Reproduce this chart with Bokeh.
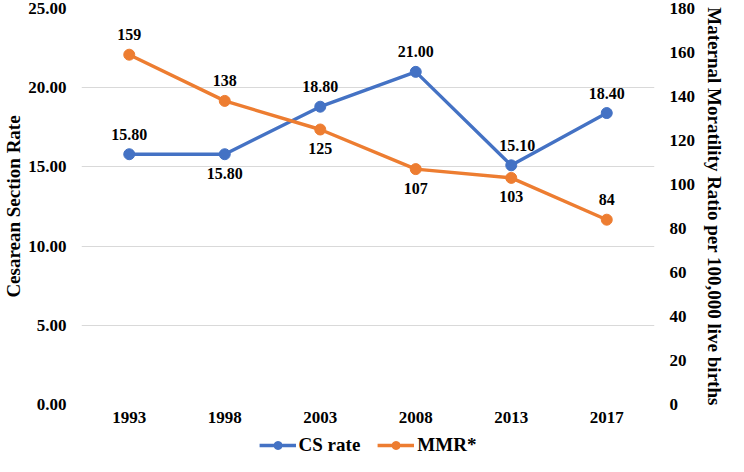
from bokeh.plotting import figure
from bokeh.models import (Range1d, LinearAxis, FixedTicker, PrintfTickFormatter,
                          Legend, LegendItem, ColumnDataSource, FactorRange)
from bokeh.layouts import column
from bokeh.core.properties import value
from bokeh.embed import file_html
from bokeh.resources import INLINE

years = ["1993", "1998", "2003", "2008", "2013", "2017"]
cs_rate = [15.80, 15.80, 18.80, 21.00, 15.10, 18.40]
mmr = [159, 138, 125, 107, 103, 84]
left_ticks = [0, 5, 10, 15, 20, 25]
right_ticks = [0, 20, 40, 60, 80, 100, 120, 140, 160, 180]
series_names = ["CS rate", "MMR*"]

# label placement (above=True / below=False)
cs_above = [True, False, True, True, True, True]
mmr_above = [True, True, False, False, False, True]

BLUE = "#4472C4"
ORANGE = "#ED7D31"
FONT_NAME = "Liberation Serif"
FONT = value(FONT_NAME)

src = ColumnDataSource(dict(
    year=years,
    cs=cs_rate,
    mmr=mmr,
    cs_lbl=[f"{v:.2f}" for v in cs_rate],
    mmr_lbl=[str(v) for v in mmr],
    cs_dy=[-20 if a else 19 for a in cs_above],
    cs_dx=[6 if y == "2013" else 0 for y in years],
    mmr_dy=[-20 if a else 19 for a in mmr_above],
))

p = figure(x_range=FactorRange(factors=years), y_range=Range1d(0, 25),
           width=728, height=434, output_backend="svg", toolbar_location=None,
           min_border_left=0, min_border_right=0, min_border_top=8,
           min_border_bottom=30)
p.outline_line_color = None
p.background_fill_color = "white"
p.border_fill_color = "white"
p.xgrid.grid_line_color = None
p.ygrid.grid_line_color = "#d9d9d9"
p.ygrid.grid_line_width = 1
p.ygrid.ticker = FixedTicker(ticks=left_ticks)

p.extra_y_ranges = {"mmr": Range1d(0, 180)}

lax = p.left[0]
lax.ticker = FixedTicker(ticks=left_ticks)
lax.formatter = PrintfTickFormatter(format="%.2f")
lax.axis_label = "Cesarean Section Rate"

rax = LinearAxis(y_range_name="mmr", ticker=FixedTicker(ticks=right_ticks),
                 axis_label="Maternal Moratility Ratio per 100,000 live births")
p.add_layout(rax, "right")

bax = p.below[0]

for ax in (lax, rax, bax):
    ax.axis_line_color = None
    ax.major_tick_line_color = None
    ax.minor_tick_line_color = None
    ax.major_tick_out = 0
    ax.minor_tick_out = 0
    ax.major_label_text_font = FONT_NAME
    ax.major_label_text_font_style = "bold"
    ax.major_label_text_font_size = "17px"
    ax.major_label_text_color = "black"
    ax.axis_label_text_font = FONT_NAME
    ax.axis_label_text_font_style = "bold"
    ax.axis_label_text_font_size = "19px"
    ax.axis_label_text_color = "black"

lax.major_label_standoff = 15
lax.axis_label_standoff = 1
rax.major_label_standoff = 15
rax.axis_label_standoff = 6
bax.major_label_standoff = 7

cs_line = p.line("year", "cs", source=src, line_color=BLUE, line_width=3.4)
cs_pts = p.scatter("year", "cs", source=src, size=11, color=BLUE)
mmr_line = p.line("year", "mmr", source=src, line_color=ORANGE, line_width=3.4,
                  y_range_name="mmr")
mmr_pts = p.scatter("year", "mmr", source=src, size=11, color=ORANGE,
                    y_range_name="mmr")

p.text("year", "cs", text="cs_lbl", source=src, x_offset="cs_dx", y_offset="cs_dy",
       text_align="center", text_baseline="middle", text_font=FONT,
       text_font_style="bold", text_font_size="16px", text_color="black")
p.text("year", "mmr", text="mmr_lbl", source=src, y_offset="mmr_dy",
       y_range_name="mmr",
       text_align="center", text_baseline="middle", text_font=FONT,
       text_font_style="bold", text_font_size="16px", text_color="black")

# legend strip below the chart (its series renderers lie outside its view)
lf = figure(width=728, height=22, x_range=FactorRange(factors=years),
            y_range=Range1d(-1000, -999),
            output_backend="svg", toolbar_location=None,
            x_axis_location=None, y_axis_location=None, min_border=0)
lf.outline_line_color = None
lf.grid.grid_line_color = None
lrs = []
for col, field in ((BLUE, "cs"), (ORANGE, "mmr")):
    ln = lf.line("year", field, source=src, line_color=col, line_width=3.4)
    sc = lf.scatter("year", field, source=src, size=11, color=col)
    lrs.append([ln, sc])

legend = Legend(items=[LegendItem(label=n, renderers=r) for n, r in zip(series_names, lrs)],
                orientation="horizontal", location="center",
                border_line_color=None, background_fill_alpha=0,
                label_text_font=FONT_NAME, label_text_font_style="bold",
                label_text_font_size="19px", label_text_color="black",
                glyph_width=37, glyph_height=20, label_height=20,
                label_standoff=3, spacing=17, padding=0, margin=0)
lf.add_layout(legend, "center")

layout = column(p, lf, spacing=0)
open("out.html", "w").write(file_html(layout, INLINE))
